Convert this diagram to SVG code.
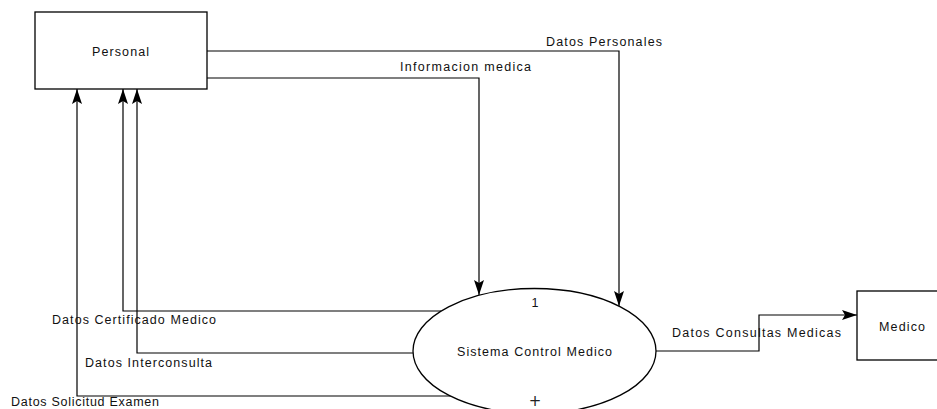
<svg xmlns="http://www.w3.org/2000/svg" width="937" height="409" viewBox="0 0 937 409">
<style>
.lbl{font-family:"Liberation Sans",Arial,sans-serif;font-size:12.5px;fill:#111}
.plus{font-family:"DejaVu Sans",sans-serif;font-size:15px;fill:#222}
.box{fill:#fff;stroke:#000;stroke-width:1.3}
.flow{fill:none;stroke:#000;stroke-width:1.2}
</style>
<defs>
<marker id="arr" viewBox="0 0 15 10" refX="15" refY="5" markerWidth="15" markerHeight="10" markerUnits="userSpaceOnUse" orient="auto">
<path d="M0,0 L15,5 L0,10 L3,5 Z" fill="#000"/>
</marker>
</defs>
<rect width="937" height="409" fill="#fff"/>
<g id="connectors">
<path class="flow" d="M207,51 H619 V306" marker-end="url(#arr)"/>
<path class="flow" d="M207,78 H479 V295" marker-end="url(#arr)"/>
<path class="flow" d="M441,311 H123 V89" marker-end="url(#arr)"/>
<path class="flow" d="M413,353 H137 V89" marker-end="url(#arr)"/>
<path class="flow" d="M453,396 H77 V89" marker-end="url(#arr)"/>
<path class="flow" d="M656,351 H759 V315 H857" marker-end="url(#arr)"/>
<text class="lbl" x="546" y="46" textLength="116" lengthAdjust="spacing">Datos Personales</text>
<text class="lbl" x="400" y="71" textLength="131" lengthAdjust="spacing">Informacion medica</text>
<text class="lbl" x="52" y="324" textLength="164" lengthAdjust="spacing">Datos Certificado Medico</text>
<text class="lbl" x="85" y="367" textLength="127" lengthAdjust="spacing">Datos Interconsulta</text>
<text class="lbl" x="11" y="406" textLength="148" lengthAdjust="spacing">Datos Solicitud Examen</text>
<text class="lbl" x="672" y="337" textLength="169" lengthAdjust="spacing">Datos Consultas Medicas</text>
</g>
<g id="personal">
<rect class="box" x="35" y="12" width="172" height="77"/>
<text class="lbl" x="92" y="56" textLength="57" lengthAdjust="spacing">Personal</text>
</g>
<g id="sistema">
<ellipse class="box" cx="534.5" cy="351" rx="121.5" ry="62.5"/>
<text class="lbl" x="535" y="307" text-anchor="middle">1</text>
<text class="lbl" x="457" y="356" textLength="155" lengthAdjust="spacing">Sistema Control Medico</text>
<text class="plus" x="535" y="406" text-anchor="middle">+</text>
</g>
<g id="medico">
<rect class="box" x="857" y="291" width="90" height="69"/>
<text class="lbl" x="879" y="331" textLength="46" lengthAdjust="spacing">Medico</text>
</g>
</svg>
